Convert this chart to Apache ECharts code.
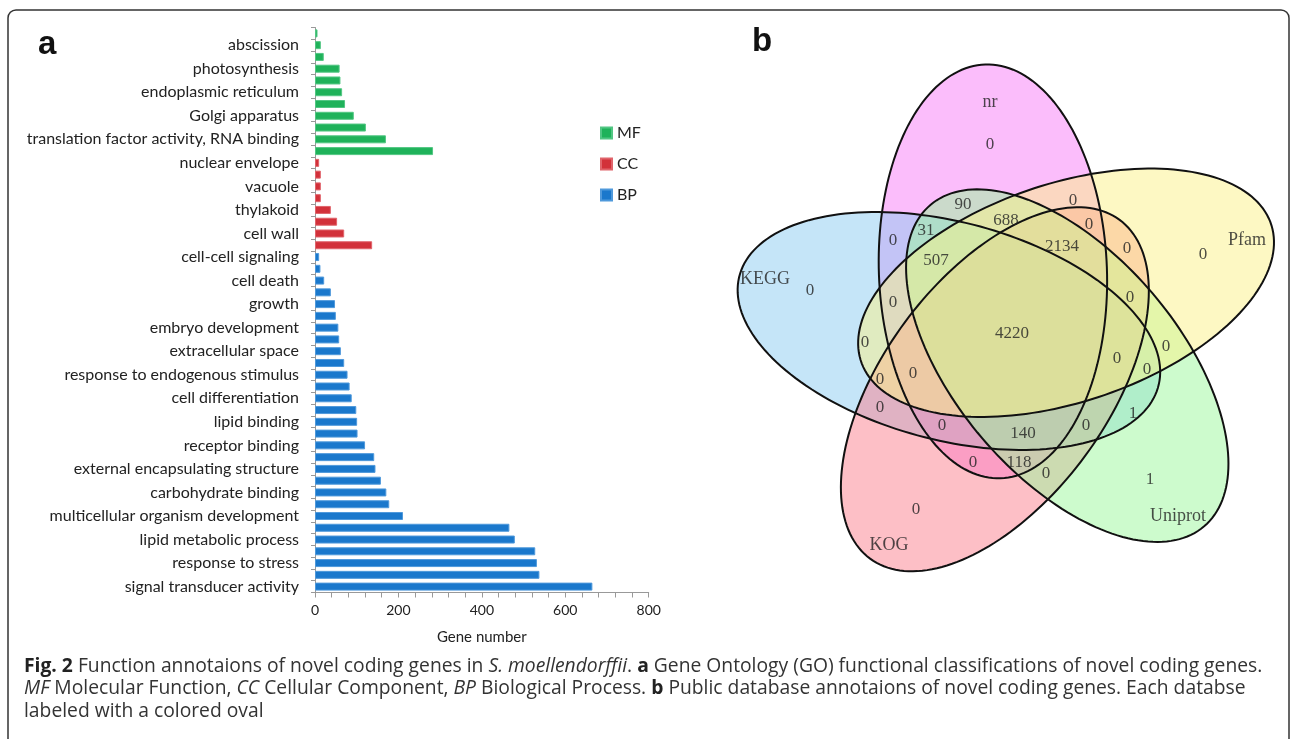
<!DOCTYPE html>
<html><head><meta charset="utf-8">
<script src="https://cdn.jsdelivr.net/npm/echarts@6/dist/echarts.min.js"></script>
<style>html,body{margin:0;padding:0;background:#fff}#c{width:1292px;height:739px}</style>
</head><body><div id="c"></div>
<script>
// ---------- DATA (panel a) : categories top -> bottom ----------
const categories = [
  "", "abscission", "", "photosynthesis", "", "endoplasmic reticulum", "", "Golgi apparatus", "",
  "translation factor activity, RNA binding", "",
  "nuclear envelope", "", "vacuole", "", "thylakoid", "", "cell wall", "",
  "cell-cell signaling", "", "cell death", "", "growth", "", "embryo development", "",
  "extracellular space", "", "response to endogenous stimulus", "", "cell differentiation", "",
  "lipid binding", "", "receptor binding", "", "external encapsulating structure", "",
  "carbohydrate binding", "", "multicellular organism development", "", "lipid metabolic process", "",
  "response to stress", "", "signal transducer activity"
];
const mfValues = [6, 14, 21, 59, 61, 65, 72, 93, 122, 170, 283];
const ccValues = [10, 14, 14, 14, 38, 53, 70, 137];
const bpValues = [10, 13, 22, 38, 48, 50, 56, 58, 62, 70, 78, 83, 88, 99, 101, 102, 120, 142, 145, 158,
                  171, 178, 211, 466, 479, 528, 532, 538, 665];
const groupNames = ["MF", "CC", "BP"];

// ---------- DATA (panel b) ----------
const vennSets = ["nr", "KEGG", "KOG", "Uniprot", "Pfam"];          // drawing order
const vennCounts = [0, 0, 0, 1, 0,                                  // unique: nr, KEGG, KOG, Uniprot, Pfam
  90, 688, 0, 31, 0, 0, 2134, 0, 507, 0, 0, 4220, 0, 0, 0, 0, 0, 0, 0, 1, 0, 140, 0, 0, 118, 0];

// ---------- LAYOUT (not data) ----------
const ringIndex = [0, 4, 3, 2, 1];            // position of each set on the 5-fold ring (clockwise from top)
const vennGeom = {cx: 294, cy: 310, ring: 62, startAngle: -108.9, tilt: -2, a: 207, b: 108.6, sx: 1.05};
const vennFill = ["rgba(247,123,247,0.5)", "rgba(139,203,241,0.5)", "rgba(251,127,141,0.5)",
                  "rgba(155,247,155,0.5)", "rgba(251,241,135,0.5)"];
const countPos = [[270,125],[90,271],[196,490],[430,460],[483,235],
  [243,185],[286,201],[353,181],[206,211],[173,221],[369,205],[342,227],[407,229],[216,241],
  [173,283],[410,278],[292,314],[145,323],[446,327],[397,339],[427,350],[160,360],[193,354],
  [160,388],[413,394],[222,406],[303,414],[366,406],[253,443],[299,443],[326,454]];
const namePos = [[270,82],[45,259],[169,525],[458,496],[527,220]];

function pad(vals, before, total) {
  const arr = [];
  for (let i = 0; i < total; i++) arr.push(i >= before && i < before + vals.length ? vals[i - before] : '-');
  return arr;
}
const N = categories.length;

function ellipsePoints(api, k) {
  const g = vennGeom, ri = ringIndex[k];
  const th = (g.startAngle + 72 * ri) * Math.PI / 180;
  const rot = (g.tilt + 72 * ri) * Math.PI / 180;
  const ex = g.cx + g.ring * Math.cos(th), ey = g.cy + g.ring * Math.sin(th);
  const pts = [];
  for (let s = 0; s < 180; s++) {
    const t = s / 180 * 2 * Math.PI;
    const lx = g.b * Math.cos(t), ly = -g.a * Math.sin(t);
    const x = ex + lx * Math.cos(rot) - ly * Math.sin(rot);
    const y = ey + lx * Math.sin(rot) + ly * Math.cos(rot);
    pts.push(api.coord([g.cx + g.sx * (x - g.cx), y]));
  }
  return pts;
}

const chart = echarts.init(document.getElementById('c'));
const labelFont = 'Lato';
const capFont = '19.3px "Open Sans"';
const capRich = {b: {fontWeight: 'bold', fontFamily: 'Open Sans', fontSize: 19.3, fill: '#222'},
                 i: {fontStyle: 'italic', fontFamily: 'Open Sans', fontSize: 19.3}};
const option = {
  animation: false,
  backgroundColor: '#fff',
  grid: [
    {left: 315, top: 27.5, width: 333.7, height: 565},
    {left: 720, top: 20, width: 560, height: 560}
  ],
  legend: {
    data: groupNames, orient: 'vertical', left: 600, top: 124, padding: 0,
    icon: 'rect', itemWidth: 11, itemHeight: 11, itemGap: 13,
    textStyle: {fontFamily: labelFont, fontSize: 16, color: '#222', lineHeight: 18}
  },
  xAxis: [
    {gridIndex: 0, type: 'value', min: 0, max: 800, interval: 200,
     name: 'Gene number', nameLocation: 'middle', nameGap: 37,
     nameTextStyle: {fontFamily: labelFont, fontSize: 15, color: '#222'},
     axisLine: {show: true, lineStyle: {color: '#999', width: 1}},
     axisTick: {show: true, length: 5, lineStyle: {color: '#999'}},
     minorTick: {show: true, splitNumber: 5, length: 5, lineStyle: {color: '#999'}},
     splitLine: {show: false},
     axisLabel: {fontFamily: labelFont, fontSize: 14, color: '#222', margin: 11}},
    {gridIndex: 1, type: 'value', min: 0, max: 560, show: false}
  ],
  yAxis: [
    {gridIndex: 0, type: 'category', data: categories, inverse: true,
     axisLine: {show: true, lineStyle: {color: '#999', width: 1}},
     axisTick: {show: true, length: 4, interval: 0, lineStyle: {color: '#999'}},
     axisLabel: {interval: 0, fontFamily: labelFont, fontSize: 16, color: '#222', margin: 16}},
    {gridIndex: 1, type: 'value', min: 0, max: 560, inverse: true, show: false}
  ],
  graphic: [
    {type: 'rect', shape: {x: 8, y: 10, width: 1281, height: 760, r: 8},
     style: {fill: 'none', stroke: '#333', lineWidth: 1.5}, silent: true},
    {type: 'text', left: 38, top: 28, style: {text: 'a', font: 'bold 33px "Liberation Sans"', fill: '#111'}},
    {type: 'text', left: 752, top: 25, style: {text: 'b', font: 'bold 33px "Liberation Sans"', fill: '#111'}},
    {type: 'text', left: 24, top: 657, style: {
      text: '{b|Fig. 2} Function annotaions of novel coding genes in {i|S. moellendorffii}. {b|a} Gene Ontology (GO) functional classifications of novel coding genes.',
      font: capFont, fill: '#333', rich: capRich}},
    {type: 'text', left: 24, top: 679.5, style: {
      text: '{i|MF} Molecular Function, {i|CC} Cellular Component, {i|BP} Biological Process. {b|b} Public database annotaions of novel coding genes. Each databse',
      font: capFont, fill: '#333', rich: capRich}},
    {type: 'text', left: 24, top: 702, style: {
      text: 'labeled with a colored oval', font: capFont, fill: '#333'}}
  ],
  series: [
    {name: 'MF', type: 'bar', xAxisIndex: 0, yAxisIndex: 0, barWidth: 8, barGap: '-100%',
     data: pad(mfValues, 0, N), itemStyle: {color: '#1fb25a', borderColor: '#52c683', borderWidth: 1}},
    {name: 'CC', type: 'bar', xAxisIndex: 0, yAxisIndex: 0, barWidth: 8, barGap: '-100%',
     data: pad(ccValues, mfValues.length, N), itemStyle: {color: '#d2313a', borderColor: '#e0646b', borderWidth: 1}},
    {name: 'BP', type: 'bar', xAxisIndex: 0, yAxisIndex: 0, barWidth: 8, barGap: '-100%',
     data: pad(bpValues, mfValues.length + ccValues.length, N), itemStyle: {color: '#1a78cc', borderColor: '#4f99db', borderWidth: 1}},
    {type: 'custom', xAxisIndex: 1, yAxisIndex: 1, silent: true, z: 2, clip: false,
     data: vennSets.map((s, i) => [i, 0]),
     renderItem: (params, api) => ({type: 'polygon', shape: {points: ellipsePoints(api, params.dataIndex)},
       style: {fill: vennFill[params.dataIndex], stroke: null}})},
    {type: 'custom', xAxisIndex: 1, yAxisIndex: 1, silent: true, z: 3, clip: false,
     data: vennSets.map((s, i) => [i, 0]),
     renderItem: (params, api) => ({type: 'polygon', shape: {points: ellipsePoints(api, params.dataIndex)},
       style: {fill: 'none', stroke: '#111', lineWidth: 2}})},
    {type: 'scatter', xAxisIndex: 1, yAxisIndex: 1, silent: true, z: 4, symbolSize: 0,
     data: countPos.map(p => p),
     label: {show: true, position: 'inside', formatter: p => String(vennCounts[p.dataIndex]),
             fontFamily: 'Liberation Serif', fontSize: 17, color: '#222'}},
    {type: 'scatter', xAxisIndex: 1, yAxisIndex: 1, silent: true, z: 4, symbolSize: 0,
     data: namePos.map(p => p),
     label: {show: true, position: 'inside', formatter: p => vennSets[p.dataIndex],
             fontFamily: 'Liberation Serif', fontSize: 18, color: '#222'}}
  ]
};
chart.setOption(option);
</script></body></html>
